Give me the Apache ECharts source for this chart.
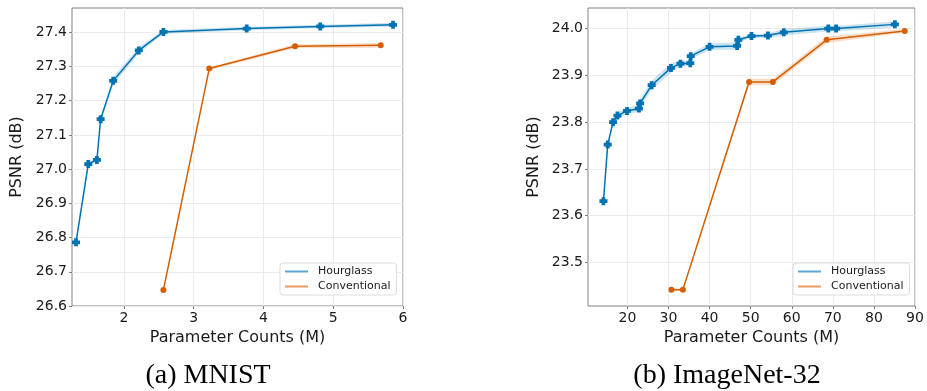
<!DOCTYPE html>
<html>
<head>
<meta charset="utf-8">
<script src="https://cdn.jsdelivr.net/npm/echarts@6/dist/echarts.min.js"></script>
<style>html,body{margin:0;padding:0;background:#fff}#c{width:927px;height:391px}</style>
</head>
<body>
<div id="c"></div>
<script>
// ---- Data ----
// (a) MNIST
const mnistHourX = [1.314, 1.49, 1.614, 1.667, 1.847, 2.214, 2.567, 3.76, 4.814, 5.857];
const mnistHourY = [26.786, 27.015, 27.027, 27.146, 27.258, 27.347, 27.401, 27.411, 27.417, 27.422];
const mnistHourErr = [0.003, 0.005, 0.005, 0.006, 0.011, 0.009, 0.006, 0.005, 0.005, 0.006];
const mnistConvX = [2.567, 3.224, 4.453, 5.681];
const mnistConvY = [26.647, 27.294, 27.359, 27.362];
const mnistConvErr = [0.002, 0.004, 0.006, 0.007];
// (b) ImageNet-32
const inetHourX = [14.16, 15.2, 16.5, 17.57, 19.9, 22.8, 23.08, 25.9, 30.6, 32.9, 35.3, 35.4, 40.0, 46.7, 47.0, 50.2, 54.2, 58.06, 68.9, 70.8, 85.1];
const inetHourY = [23.631, 23.752, 23.800, 23.814, 23.824, 23.829, 23.840, 23.879, 23.916, 23.925, 23.926, 23.941, 23.961, 23.963, 23.976, 23.984, 23.985, 23.992, 24.000, 24.000, 24.009];
const inetHourErr = [0.003, 0.004, 0.005, 0.007, 0.007, 0.007, 0.010, 0.010, 0.010, 0.006, 0.006, 0.006, 0.007, 0.008, 0.005, 0.004, 0.005, 0.007, 0.006, 0.006, 0.006];
const inetConvX = [30.7, 33.5, 49.6, 55.4, 68.5, 87.5];
const inetConvY = [23.442, 23.442, 23.886, 23.886, 23.976, 23.995];
const inetConvErr = [0.003, 0.003, 0.007, 0.007, 0.007, 0.004];
// tick labels
const mnistXTicks = [2, 3, 4, 5, 6];
const mnistYTicks = [26.6, 26.7, 26.8, 26.9, 27.0, 27.1, 27.2, 27.3, 27.4];
const inetXTicks = [20, 30, 40, 50, 60, 70, 80, 90];
const inetYTicks = [23.5, 23.6, 23.7, 23.8, 23.9, 24.0];
const seriesNames = ['Hourglass', 'Conventional'];
const captions = ['(a) MNIST', '(b) ImageNet-32'];
const axisNames = {x: 'Parameter Counts (M)', y: 'PSNR (dB)'};

// ---- Styling ----
const BLUE = '#0173b2', ORANGE = '#d55e00';
const BLUE_BAND = 'rgba(1,115,178,0.2)', ORANGE_BAND = 'rgba(213,94,0,0.2)';
const FONT = 'DejaVu Sans';
const PLUS = 'path://M-1.4,-3L1.4,-3L1.4,-1.4L3,-1.4L3,1.4L1.4,1.4L1.4,3L-1.4,3L-1.4,1.4L-3,1.4L-3,-1.4L-1.4,-1.4Z';

function pairs(xs, ys) { return xs.map((x, i) => [x, ys[i]]); }

// confidence band: one polygon per segment, positioned via the axis scales (api.coord)
function bandSeries(idx, xs, ys, err, color) {
  return {
    type: 'custom', xAxisIndex: idx, yAxisIndex: idx, silent: true, z: 1, clip: true,
    data: xs.map((x, i) => [x, ys[i] - err[i], ys[i] + err[i]]),
    encode: {x: 0, y: [1, 2]},
    renderItem: function (params, api) {
      const i = params.dataIndex;
      if (i >= xs.length - 1) return null;
      const pts = [
        api.coord([xs[i], ys[i] + err[i]]),
        api.coord([xs[i + 1], ys[i + 1] + err[i + 1]]),
        api.coord([xs[i + 1], ys[i + 1] - err[i + 1]]),
        api.coord([xs[i], ys[i] - err[i]])
      ];
      return {type: 'polygon', shape: {points: pts}, style: {fill: color}};
    }
  };
}

function mainSeries(idx, name, xs, ys, color, symbol, size) {
  return {type: 'line', name: name, xAxisIndex: idx, yAxisIndex: idx, data: pairs(xs, ys),
    symbol: symbol, symbolSize: size, showAllSymbol: true,
    lineStyle: {color: color, width: 1.5}, itemStyle: {color: color}, z: 3};
}

function xAxis(idx, min, max, ticks) {
  return {type: 'value', gridIndex: idx, min: min, max: max,
    name: axisNames.x, nameLocation: 'middle', nameGap: 24,
    nameTextStyle: {fontFamily: FONT, fontSize: 16, color: '#1a1a1a'},
    axisLine: {show: false},
    axisTick: {show: true, length: 3, lineStyle: {color: '#808080'}, customValues: ticks},
    axisLabel: {fontFamily: FONT, fontSize: 14, color: '#1a1a1a', margin: 5, customValues: ticks,
      formatter: v => String(Math.round(v))},
    splitLine: {show: true, lineStyle: {color: '#ebebeb', width: 1}}};
}
function yAxis(idx, min, max, ticks, gap) {
  return {type: 'value', gridIndex: idx, min: min, max: max,
    name: axisNames.y, nameLocation: 'middle', nameGap: gap,
    nameTextStyle: {fontFamily: FONT, fontSize: 16, color: '#1a1a1a'},
    axisLine: {show: false},
    axisTick: {show: true, length: 3, lineStyle: {color: '#808080'}, customValues: ticks},
    axisLabel: {fontFamily: FONT, fontSize: 14, color: '#1a1a1a', margin: 5, customValues: ticks,
      formatter: v => v.toFixed(1)},
    splitLine: {show: true, lineStyle: {color: '#ebebeb', width: 1}}};
}
function legend(left, top) {
  return {left: left, top: top, orient: 'vertical', itemGap: 4, itemWidth: 23, itemHeight: 2,
    padding: [3, 6, 3, 5], backgroundColor: '#fff', borderColor: '#dddddd', borderWidth: 1, borderRadius: 3,
    selectedMode: false,
    textStyle: {fontFamily: FONT, fontSize: 11, color: '#1a1a1a', padding: [0, 0, 0, 5]},
    data: [
      {name: seriesNames[0], icon: 'rect', itemStyle: {color: '#5aa6d6'}},
      {name: seriesNames[1], icon: 'rect', itemStyle: {color: '#e89a63'}}
    ]};
}

const chart = echarts.init(document.getElementById('c'), null, {renderer: 'canvas'});
chart.setOption({
  animation: false,
  backgroundColor: '#fff',
  grid: [
    {left: 72, top: 8, width: 331, height: 298, show: true, borderColor: '#808080', borderWidth: 1, backgroundColor: 'transparent', outerBoundsMode: 'none'},
    {left: 588, top: 8, width: 327, height: 298, show: true, borderColor: '#808080', borderWidth: 1, backgroundColor: 'transparent', outerBoundsMode: 'none'}
  ],
  xAxis: [xAxis(0, 1.257, 6, mnistXTicks), xAxis(1, 10.4, 90, inetXTicks)],
  yAxis: [yAxis(0, 26.6, 27.471, mnistYTicks, 47), yAxis(1, 23.407, 24.044, inetYTicks, 46)],
  legend: [legend(280, 263), legend(793, 263)],
  series: [
    bandSeries(0, mnistHourX, mnistHourY, mnistHourErr, BLUE_BAND),
    bandSeries(0, mnistConvX, mnistConvY, mnistConvErr, ORANGE_BAND),
    mainSeries(0, seriesNames[0], mnistHourX, mnistHourY, BLUE, PLUS, 8),
    mainSeries(0, seriesNames[1], mnistConvX, mnistConvY, ORANGE, 'circle', 6),
    bandSeries(1, inetHourX, inetHourY, inetHourErr, BLUE_BAND),
    bandSeries(1, inetConvX, inetConvY, inetConvErr, ORANGE_BAND),
    mainSeries(1, seriesNames[0], inetHourX, inetHourY, BLUE, PLUS, 8),
    mainSeries(1, seriesNames[1], inetConvX, inetConvY, ORANGE, 'circle', 6)
  ],
  graphic: [
    {type: 'text', x: 208, y: 376, style: {text: captions[0], font: '28px "Liberation Serif"', fill: '#000', align: 'center', verticalAlign: 'middle'}},
    {type: 'text', x: 727, y: 376, style: {text: captions[1], font: '28px "Liberation Serif"', fill: '#000', align: 'center', verticalAlign: 'middle'}}
  ]
});
</script>
</body>
</html>
